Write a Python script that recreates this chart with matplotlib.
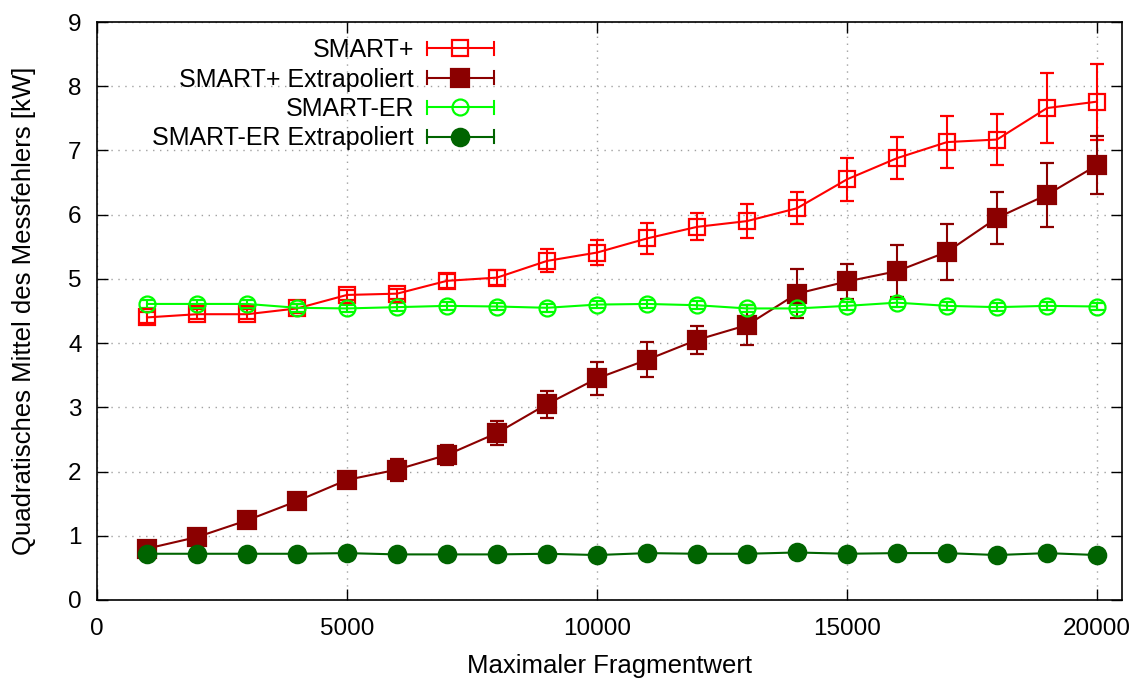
import matplotlib
matplotlib.use("Agg")
from matplotlib import pyplot as plt
from matplotlib.lines import Line2D
from matplotlib.legend_handler import HandlerBase

plt.rcParams['font.family'] = ['Liberation Sans', 'DejaVu Sans']

# Maximaler Fragmentwert
x = [1000, 2000, 3000, 4000, 5000, 6000, 7000, 8000, 9000, 10000,
     11000, 12000, 13000, 14000, 15000, 16000, 17000, 18000, 19000, 20000]

smart_plus = [4.40, 4.45, 4.45, 4.54, 4.75, 4.77, 4.97, 5.02, 5.28, 5.41,
              5.63, 5.81, 5.90, 6.10, 6.55, 6.88, 7.13, 7.17, 7.66, 7.76]
smart_plus_err = [0.08, 0.08, 0.08, 0.07, 0.08, 0.08, 0.11, 0.12, 0.18, 0.19,
                  0.24, 0.21, 0.27, 0.25, 0.33, 0.33, 0.41, 0.40, 0.54, 0.59]

smart_plus_ext = [0.80, 0.98, 1.24, 1.54, 1.87, 2.03, 2.26, 2.60, 3.05, 3.45,
                  3.74, 4.05, 4.28, 4.77, 4.96, 5.12, 5.42, 5.95, 6.31, 6.77]
smart_plus_ext_err = [0.04, 0.05, 0.06, 0.07, 0.08, 0.17, 0.16, 0.19, 0.21, 0.26,
                      0.27, 0.22, 0.31, 0.38, 0.27, 0.40, 0.44, 0.40, 0.50, 0.45]

smart_er = [4.61, 4.61, 4.61, 4.55, 4.54, 4.56, 4.58, 4.57, 4.55, 4.60,
            4.61, 4.59, 4.54, 4.54, 4.58, 4.63, 4.58, 4.56, 4.58, 4.57]
smart_er_err = [0.06, 0.06, 0.06, 0.06, 0.06, 0.06, 0.06, 0.06, 0.06, 0.06,
                0.06, 0.06, 0.06, 0.06, 0.06, 0.06, 0.06, 0.06, 0.06, 0.06]

smart_er_ext = [0.72, 0.72, 0.72, 0.72, 0.73, 0.71, 0.71, 0.71, 0.72, 0.70,
                0.73, 0.72, 0.72, 0.74, 0.72, 0.73, 0.73, 0.70, 0.73, 0.70]
smart_er_ext_err = [0.02, 0.02, 0.02, 0.02, 0.02, 0.02, 0.02, 0.02, 0.02, 0.02,
                    0.02, 0.02, 0.02, 0.02, 0.02, 0.02, 0.02, 0.02, 0.02, 0.02]

labels = ['SMART+', 'SMART+ Extrapoliert', 'SMART-ER', 'SMART-ER Extrapoliert']


class GnuplotErrHandler(HandlerBase):
    # horizontale Linie mit Endstrichen und Marker in der Mitte (wie gnuplot)
    def create_artists(self, legend, orig_handle, xdescent, ydescent,
                       width, height, fontsize, trans):
        c = orig_handle.get_color()
        lw = orig_handle.get_linewidth()
        y = height / 2 - ydescent
        x0, x1 = -xdescent, width - xdescent
        h = 4.7
        arts = [Line2D([x0, x1], [y, y], color=c, lw=lw),
                Line2D([x0, x0], [y - h, y + h], color=c, lw=lw),
                Line2D([x1, x1], [y - h, y + h], color=c, lw=lw),
                Line2D([(x0 + x1) / 2], [y], ls='none',
                       marker=orig_handle.get_marker(),
                       markersize=orig_handle.get_markersize(),
                       markerfacecolor=orig_handle.get_markerfacecolor(),
                       markeredgecolor=c,
                       markeredgewidth=orig_handle.get_markeredgewidth())]
        for a in arts:
            a.set_transform(trans)
        return arts


fig = plt.figure(figsize=(11.44, 6.86), dpi=100)
ax = fig.add_axes([97 / 1144, 1 - 600 / 686, (1122 - 97) / 1144, (600 - 22) / 686])

series = [
    (smart_plus, smart_plus_err, '#ff0000', 's', 'none', 11.5),
    (smart_plus_ext, smart_plus_ext_err, '#8b0000', 's', '#8b0000', 12.5),
    (smart_er, smart_er_err, '#00ff00', 'o', 'none', 11.5),
    (smart_er_ext, smart_er_ext_err, '#006400', 'o', '#006400', 12.5),
]

handles = []
for (y, err, col, mk, mfc, ms), lab in zip(series, labels):
    ax.errorbar(x, y, yerr=err, color=col, lw=1.5, elinewidth=1.5,
                capsize=5, capthick=1.5, marker=mk, markersize=ms,
                markerfacecolor=mfc, markeredgecolor=col, markeredgewidth=1.6)
    handles.append(Line2D([], [], color=col, lw=1.5, marker=mk, markersize=ms,
                          markerfacecolor=mfc, markeredgewidth=1.6))

ax.set_xlim(0, 20500)
ax.set_ylim(0, 9)
ax.set_xticks([0, 5000, 10000, 15000, 20000])
ax.set_yticks(range(0, 10))
ax.tick_params(direction='in', length=8, width=1, top=True, right=True,
               labelsize=17.5)
ax.tick_params(axis='x', pad=13)
ax.tick_params(axis='y', pad=11)
ax.grid(True, color='#a0a0a0', linestyle=(0, (1, 4)), linewidth=1)
for s in ax.spines.values():
    s.set_linewidth(1.2)

ax.set_xlabel('Maximaler Fragmentwert', fontsize=18.5, va='center')
ax.set_ylabel('Quadratisches Mittel des Messfehlers [kW]', fontsize=18.5, va='center')
ax.xaxis.set_label_coords(0.5, (600 - 666) / 578)
ax.yaxis.set_label_coords((24 - 97) / 1025, 0.5)

leg = fig.legend(handles, labels, handler_map={Line2D: GnuplotErrHandler()},
                 loc='upper right', bbox_to_anchor=(494 / 1144, 1 - 38 / 686),
                 frameon=False, markerfirst=False, fontsize=18,
                 handlelength=2.7, handletextpad=0.5, labelspacing=0.22,
                 borderpad=0, borderaxespad=0)

fig.savefig('out.png', dpi=100)
